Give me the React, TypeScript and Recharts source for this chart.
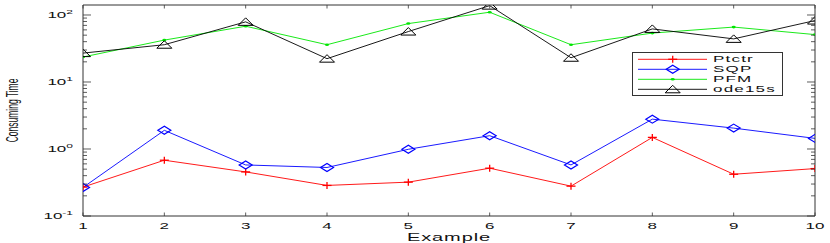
import { LineChart, Line, XAxis, YAxis } from 'recharts';

// Example number on x, consuming time (log) on y
const examples = [1, 2, 3, 4, 5, 6, 7, 8, 9, 10];
const ptctr = [0.27, 0.68, 0.455, 0.286, 0.32, 0.517, 0.279, 1.49, 0.42, 0.51];
const sqp = [0.267, 1.9, 0.578, 0.53, 0.99, 1.58, 0.578, 2.79, 2.05, 1.44];
const pfm = [23.6, 42.2, 68, 36, 74.5, 110, 36, 53.7, 66, 51];
const ode15s = [27, 36, 79, 22.3, 56.6, 138, 23, 62, 44, 82.6];

const yMajor = [0.1, 1, 10, 100];
const yMinor = [
  0.2, 0.3, 0.4, 0.5, 0.6, 0.7, 0.8, 0.9,
  2, 3, 4, 5, 6, 7, 8, 9,
  20, 30, 40, 50, 60, 70, 80, 90,
];
const yTicks = [...yMajor, ...yMinor].sort((a, b) => a - b);

const FONT = '"Liberation Sans", Arial, Helvetica, sans-serif';
const AXIS = '#333';
const TEXT = '#111';

const series = [
  { key: 'ptctr', name: 'Ptctr', color: '#ff0000', marker: 'plus' },
  { key: 'sqp', name: 'SQP', color: '#0000ff', marker: 'diamond' },
  { key: 'pfm', name: 'PFM', color: '#00e600', marker: 'point' },
  { key: 'ode15s', name: 'ode15s', color: '#000000', marker: 'triangle' },
];

const data = examples.map((x, i) => ({
  x,
  ptctr: ptctr[i],
  sqp: sqp[i],
  pfm: pfm[i],
  ode15s: ode15s[i],
}));

const Marker = ({ kind, cx, cy, color }: any) => {
  if (cx == null || cy == null) return null;
  if (kind === 'plus') {
    return (
      <g stroke={color} strokeWidth={1.3}>
        <line x1={cx - 4.5} x2={cx + 4.5} y1={cy} y2={cy} />
        <line x1={cx} x2={cx} y1={cy - 3.5} y2={cy + 3.5} />
      </g>
    );
  }
  if (kind === 'diamond') {
    return (
      <polygon
        points={`${cx - 6.5},${cy} ${cx},${cy - 4} ${cx + 6.5},${cy} ${cx},${cy + 4}`}
        fill="none"
        stroke={color}
        strokeWidth={1.2}
      />
    );
  }
  if (kind === 'triangle') {
    return (
      <polygon
        points={`${cx},${cy - 4} ${cx + 7.5},${cy + 3.5} ${cx - 7.5},${cy + 3.5}`}
        fill="none"
        stroke={color}
        strokeWidth={1}
      />
    );
  }
  return <ellipse cx={cx} cy={cy} rx={2} ry={1.3} fill={color} />;
};

const LeftTick = ({ x, y, payload }: any) => {
  const v = payload.value;
  const major = yMajor.includes(v);
  return (
    <g>
      <line x1={x} x2={x + (major ? 8 : 4)} y1={y} y2={y} stroke={AXIS} strokeWidth={0.8} />
      {major && (
        <text
          transform={`translate(${x - 10},${y + 3.3}) scale(2,1)`}
          textAnchor="end"
          fontFamily={FONT}
          fontSize={8.5}
          fill={TEXT}
        >
          10
          <tspan dy={-4} fontSize={6}>
            {Math.round(Math.log10(v))}
          </tspan>
        </text>
      )}
    </g>
  );
};

const RightTick = ({ x, y, payload }: any) => {
  const major = yMajor.includes(payload.value);
  return <line x1={x} x2={x - (major ? 8 : 4)} y1={y} y2={y} stroke={AXIS} strokeWidth={0.8} />;
};

const BottomTick = ({ x, y, payload }: any) => (
  <g>
    <line x1={x} x2={x} y1={y} y2={y - 3.5} stroke={AXIS} strokeWidth={0.8} />
    <text
      transform={`translate(${x},${y + 12.5}) scale(2,1)`}
      textAnchor="middle"
      fontFamily={FONT}
      fontSize={8.5}
      fill={TEXT}
    >
      {payload.value}
    </text>
  </g>
);

const TopTick = ({ x, y }: any) => (
  <line x1={x} x2={x} y1={y} y2={y + 3.5} stroke={AXIS} strokeWidth={0.8} />
);

const XLabel = ({ viewBox }: any) => (
  <text
    transform={`translate(${viewBox.x + viewBox.width / 2},${viewBox.y + 25}) scale(2,1)`}
    textAnchor="middle"
    fontFamily={FONT}
    fontSize={10}
    letterSpacing={0.45}
    fill={TEXT}
  >
    Example
  </text>
);

const YLabel = ({ viewBox }: any) => (
  <text
    transform={`translate(${viewBox.x + 18},${viewBox.y + viewBox.height / 2}) rotate(-90) scale(1,2)`}
    textAnchor="middle"
    fontFamily={FONT}
    fontSize={8.5}
    fill={TEXT}
  >
    Consuming Time
  </text>
);

const LegendBox = () => (
  <svg
    width={151}
    height={44}
    style={{ position: 'absolute', left: 632, top: 52, background: '#fff' }}
  >
    <rect x={0.5} y={0.5} width={150} height={43} fill="#fff" stroke={AXIS} strokeWidth={1} />
    {series.map((s, i) => {
      const cy = 7.3 + i * 10;
      return (
        <g key={s.key}>
          <line x1={6} x2={75} y1={cy} y2={cy} stroke={s.color} strokeWidth={0.9} />
          <Marker kind={s.marker} cx={40.7} cy={cy} color={s.color} />
          <text
            transform={`translate(81,${cy + 3}) scale(2,1)`}
            fontFamily={FONT}
            fontSize={8.5}
            letterSpacing={0.6}
            fill={TEXT}
          >
            {s.name}
          </text>
        </g>
      );
    })}
  </svg>
);

const App = () => {
  return (
    <div style={{ position: 'absolute', left: 0, top: 0, width: 830, height: 243, background: '#fff' }}>
      <LineChart width={830} height={243} data={data} margin={{ top: 0, right: 0, bottom: 0, left: 0 }}>
        <XAxis
          dataKey="x"
          type="number"
          domain={[1, 10]}
          ticks={examples}
          interval={0}
          allowDataOverflow
          height={27}
          tickSize={0}
          tickMargin={0}
          tick={<BottomTick />}
          axisLine={{ stroke: AXIS, strokeWidth: 1 }}
          label={{ content: <XLabel /> }}
        />
        <XAxis
          xAxisId="top"
          orientation="top"
          dataKey="x"
          type="number"
          domain={[1, 10]}
          ticks={examples}
          interval={0}
          allowDataOverflow
          height={5}
          tickSize={0}
          tickMargin={0}
          tick={<TopTick />}
          axisLine={{ stroke: AXIS, strokeWidth: 1 }}
        />
        <YAxis
          type="number"
          scale="log"
          domain={[0.1, 141]}
          ticks={yTicks}
          interval={0}
          allowDataOverflow
          width={83}
          tickSize={0}
          tickMargin={0}
          tick={<LeftTick />}
          axisLine={{ stroke: AXIS, strokeWidth: 1 }}
          label={{ content: <YLabel /> }}
        />
        <YAxis
          yAxisId="right"
          orientation="right"
          type="number"
          scale="log"
          domain={[0.1, 141]}
          ticks={yTicks}
          interval={0}
          allowDataOverflow
          width={15}
          tickSize={0}
          tickMargin={0}
          tick={<RightTick />}
          axisLine={{ stroke: AXIS, strokeWidth: 1 }}
        />
        {series.map((s) => (
          <Line
            key={s.key}
            dataKey={s.key}
            name={s.name}
            type="linear"
            stroke={s.color}
            strokeWidth={0.9}
            isAnimationActive={false}
            activeDot={false}
            dot={(p: any) => <Marker key={`${s.key}-${p.index}`} kind={s.marker} cx={p.cx} cy={p.cy} color={s.color} />}
          />
        ))}
      </LineChart>
      <LegendBox />
    </div>
  );
};

export default App;
